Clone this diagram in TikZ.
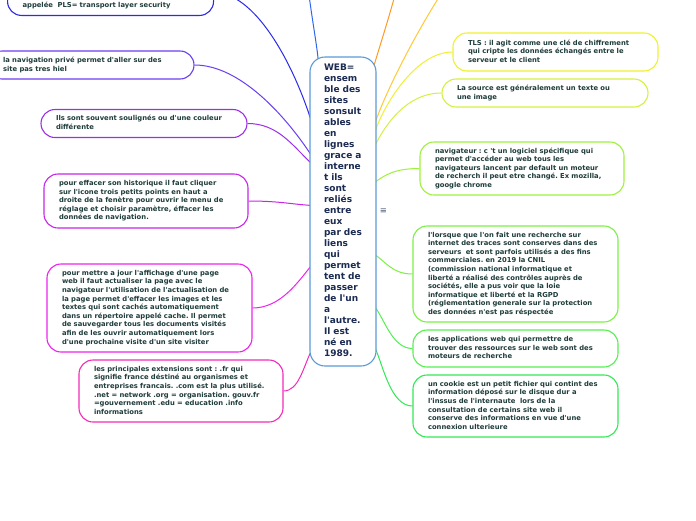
\documentclass[tikz,border=0pt]{standalone}
\usepackage{fontspec}
\setmainfont{DejaVu Sans}[Ligatures=TeXOff]
\usetikzlibrary{backgrounds,calc}
\frenchspacing
\definecolor{txt}{HTML}{1F3D3B}
\definecolor{webtxt}{HTML}{1B2B52}
\definecolor{webline}{HTML}{5A9AD6}
\definecolor{cTop}{HTML}{2F66F0}
\definecolor{cTL}{HTML}{2B2BEA}
\definecolor{cNav}{HTML}{6A3FF0}
\definecolor{cIls}{HTML}{9B30E8}
\definecolor{cEff}{HTML}{C726EA}
\definecolor{cMet}{HTML}{EE22EE}
\definecolor{cPri}{HTML}{F22CB8}
\definecolor{cOr}{HTML}{FF9A20}
\definecolor{cYo}{HTML}{FFC834}
\definecolor{cTls}{HTML}{F0F030}
\definecolor{cSrc}{HTML}{D4F040}
\definecolor{cNvg}{HTML}{A0F040}
\definecolor{cLor}{HTML}{7CF044}
\definecolor{cApp}{HTML}{55F050}
\definecolor{cCoo}{HTML}{33E855}
\newcommand{\mylines}[1]{\begin{tabular}{@{}l@{}}#1\end{tabular}}
\begin{document}
\begin{tikzpicture}[x=1pt,y=-1pt,
  box/.style={draw, rounded corners=14pt, line width=1.1pt, fill=white,
    inner xsep=15pt, inner ysep=0pt, align=left, text=txt,
    font=\fontsize{6.8}{8.6}\selectfont\bfseries\frenchspacing},
  webbox/.style={draw=webline, rounded corners=15pt, line width=1.1pt, fill=white,
    inner xsep=14pt, inner ysep=0pt, align=left, text=webtxt,
    text width=38pt, minimum width=66pt, minimum height=309pt,
    font=\fontsize{9}{11}\selectfont\bfseries\frenchspacing},
  conn/.style={line width=1pt}]
\useasboundingbox (0,0) rectangle (696,520);

% central node
\node[webbox] (web) at (343,211.5) {\mylines{WEB=\\ensem\\ble des\\sites\\sonsult\\ables\\en\\lignes\\grace a\\interne\\t ils\\sont\\reliés\\entre\\eux\\par des\\liens\\qui\\permet\\tent de\\passer\\de l'un\\a\\l'autre.\\Il est\\né en\\1989.}};
\node[text=webtxt!80, font=\fontsize{8.5}{9}\selectfont, inner sep=0pt] (menu) at (383.5,211) {≡};

% left nodes
\node[box, draw=cTL, text width=176pt, minimum width=206pt, text height=32pt, text depth=2pt, inner ysep=6pt, anchor=south west] (tl) at (7,16) {\mylines{appelée\ \ PLS= transport layer security}};
\node[box, draw=cNav, text width=176pt, minimum width=206pt, minimum height=28pt] (nav) at (91,65) {\mylines{la navigation privé permet d'aller sur des\\site pas tres hiel}};
\node[box, draw=cIls, text width=176pt, minimum width=206pt, minimum height=28pt] (ils) at (144,123.5) {\mylines{Ils sont souvent soulignés ou d'une couleur\\différente}};
\node[box, draw=cEff, text width=174pt, minimum width=204pt, minimum height=54pt] (eff) at (146,201) {\mylines{pour effacer son historique il faut cliquer\\sur l'icone trois petits points en haut a\\droite de la fenètre pour ouvrir le menu de\\réglage et choisir paramètre, éffacer les\\données de navigation.}};
\node[box, draw=cMet, text width=175pt, minimum width=205pt, minimum height=88pt] (met) at (149.5,308) {\mylines{pour mettre a jour l'affichage d'une page\\web il faut actualiser la page avec le\\navigateur l'utilisation de l'actualisation de\\la page permet d'effacer les images et les\\textes qui sont cachés automatiquement\\dans un répertoire appelé cache. Il permet\\de sauvegarder tous les documents visités\\afin de les ouvrir automatiquement lors\\d'une prochaine visite d'un site visiter}};
\node[box, draw=cPri, text width=174pt, minimum width=204pt, minimum height=62pt] (pri) at (181,391) {\mylines{les principales extensions sont : .fr qui\\signifie france déstiné au organismes et\\entreprises francais. .com est la plus utilisé.\\.net = network .org = organisation. gouv.fr\\=gouvernement .edu = education .info\\informations}};

% right nodes
\node[box, draw=cTls, text width=175pt, minimum width=205pt, minimum height=38pt] (tls) at (555.5,52) {\mylines{TLS : il agit comme une clé de chiffrement\\qui cripte les données échangés entre le\\serveur et le client}};
\node[box, draw=cSrc, text width=176pt, minimum width=206pt, minimum height=28pt] (src) at (545,93) {\mylines{La source est généralement un texte ou\\une image}};
\node[box, draw=cNvg, text width=174pt, minimum width=204pt, minimum height=53pt] (nvg) at (522,168.5) {\mylines{navigateur : c 't un logiciel spécifique qui\\permet d'accéder au web tous les\\navigateurs lancent par default un moteur\\de recherch il peut etre changé. Ex mozilla,\\google chrome}};
\node[box, draw=cLor, text width=175pt, minimum width=205pt, minimum height=96pt] (lor) at (515.5,274) {\mylines{l'lorsque que l'on fait une recherche sur\\internet des traces sont conserves dans des\\serveurs\ \ et sont parfois utilisés a des fins\\commerciales. en 2019 la CNIL\\(commission national informatique et\\liberté a réalisé des contrôles auprès de\\sociétés, elle a pus voir que la loie\\informatique et liberté et la RGPD\\(réglementation generale sur la protection\\des données n'est pas réspectée}};
\node[box, draw=cApp, text width=175pt, minimum width=205pt, minimum height=37pt] (app) at (515.5,348.5) {\mylines{les applications web qui permettre de\\trouver des ressources sur le web sont des\\moteurs de recherche}};
\node[box, draw=cCoo, text width=175pt, minimum width=205pt, minimum height=62pt] (coo) at (515.5,406) {\mylines{un cookie est un petit fichier qui contint des\\information déposé sur le disque dur a\\l'inssus de l'internaute\ \ lors de la\\consultation de certains site web il\\conserve des informations en vue d'une\\connexion ulterieure}};

% off-canvas connector ends
\coordinate (offA) at (307,-20);
\coordinate (offB) at (399,-20);
\coordinate (offC) at (447,-15);

\begin{pgfonlayer}{background}
\fill[white] (0,0) rectangle (696,520);
% top
\draw[conn,cTop] (offA) .. controls (312,20) and (317,45) .. ($(web.north west)+(9,6)$);
\draw[conn,cOr] (offB) .. controls (390,15) and (380,45) .. ($(web.north east)+(-4,14)$);
\draw[conn,cYo] (offC) .. controls (420,25) and (386,90) .. ($(web.north east)+(-2,68)$);
% left
\draw[conn,cTL] (tl.east) .. controls +(40,0) and (292,60) .. ($(web.north west)+(2,65)$);
\draw[conn,cNav] (nav.east) .. controls +(45,0) and (285,115) .. ($(web.north west)+(2,99)$);
\draw[conn,cIls] (ils.east) .. controls +(30,0) and (292,145) .. ($(web.north west)+(2,107)$);
\draw[conn,cEff] (eff.east) .. controls +(30,0) and (290,204) .. ($(web.north west)+(2,149)$);
\draw[conn,cMet] (met.east) .. controls +(28,0) and (298,282) .. ($(web.north west)+(2,209)$);
\draw[conn,cPri] (pri.east) .. controls +(15,0) and (303,368) .. ($(web.north west)+(2,294)$);
% right
\draw[conn,cTls] (tls.west) .. controls +(-35,0) and (386,100) .. ($(web.north east)+(-2,76)$);
\draw[conn,cSrc] (src.west) .. controls +(-35,0) and (385,125) .. ($(web.north east)+(-2,90)$);
\draw[conn,cNvg] (nvg.west) .. controls +(-25,0) and (385,175) .. ($(web.north east)+(-2,126)$);
\draw[conn,cLor] (lor.west) .. controls +(-20,0) and (386,262) .. ($(web.north east)+(-2,198)$);
\draw[conn,cApp] (app.west) .. controls +(-20,0) and (385,320) .. ($(web.north east)+(-2,250)$);
\draw[conn,cCoo] (coo.west) .. controls +(-22,0) and (383,365) .. ($(web.north east)+(-2,290)$);
\end{pgfonlayer}
\end{tikzpicture}
\end{document}
